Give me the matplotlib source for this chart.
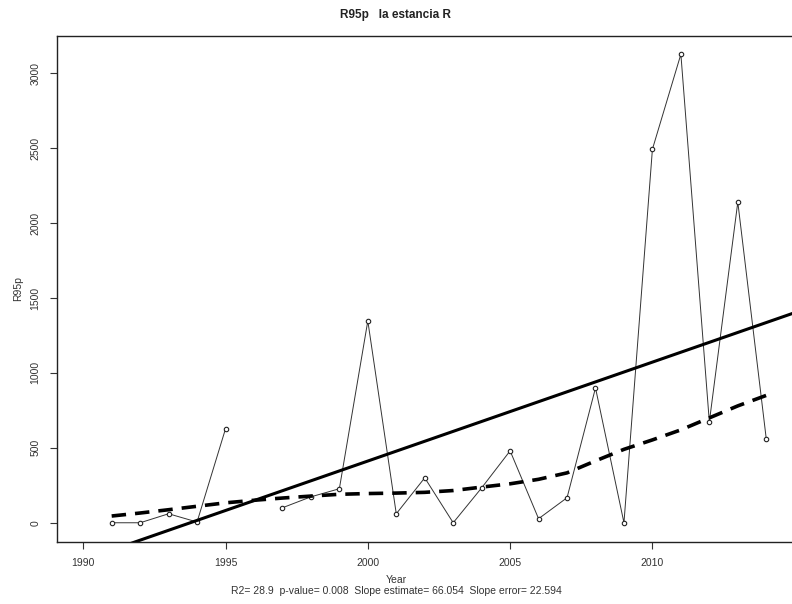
import numpy as np
import matplotlib
matplotlib.use("Agg")
import matplotlib.pyplot as plt

plt.rcParams['font.family'] = ['Liberation Sans', 'DejaVu Sans']

# yearly R95p values (1996 missing)
years = np.arange(1991, 2015)
r95p = [0, 0, 60, 5, 627, np.nan, 100, 173, 227, 1347, 60, 300, 0, 233,
        480, 27, 167, 900, 0, 2493, 3127, 673, 2140, 560]

# smoothed curve (lowess)
smooth = [45, 65, 87, 110, 133, 150, 165, 178, 190, 195, 198, 203, 215, 238,
          260, 290, 333, 413, 490, 553, 620, 700, 780, 850]

title = "R95p   la estancia R"
subtitle = "R2= 28.9  p-value= 0.008  Slope estimate= 66.054  Slope error= 22.594"

fig = plt.figure(figsize=(7.92, 6.04), dpi=100)
ax = fig.add_axes([0.072, 0.103, 0.93, 0.837])

y = np.array(r95p, dtype=float)
ax.plot(years, y, color='#333333', lw=0.7, marker='o', ms=3.2,
        mfc='white', mec='#222222', mew=0.8)

ok = ~np.isnan(y)
slope, icpt = np.polyfit(years[ok], y[ok], 1)
xx = np.array([1988, 2016])
ax.plot(xx, slope * xx + icpt, color='black', lw=2.2)

ax.plot(years, smooth, color='black', lw=2.6, ls=(0, (4, 2.5)))

ax.set_xlim(1989.08, 2014.96)
ax.set_ylim(-127, 3247)
ax.set_xticks([1990, 1995, 2000, 2005, 2010])
ax.set_yticks([0, 500, 1000, 1500, 2000, 2500, 3000])
ax.tick_params(direction='out', length=5, width=0.8, labelsize=7.5,
               labelcolor='#333333', color='#333333', pad=7)
for lab in ax.get_yticklabels():
    lab.set_rotation(90)
    lab.set_va('center')
for s in ax.spines.values():
    s.set_linewidth(1.0)
    s.set_color('#222222')

ax.set_ylabel("R95p", fontsize=7.5, color='#333333', labelpad=5)
fig.text(0.5, 0.975, title, ha='center', va='center', fontsize=8.5,
         fontweight='bold', color='#222222')
fig.text(0.5, 0.04, "Year", ha='center', va='center', fontsize=7.5, color='#333333')
fig.text(0.5, 0.022, subtitle, ha='center', va='center', fontsize=7.5, color='#333333')

fig.savefig("out.png", dpi=100)
